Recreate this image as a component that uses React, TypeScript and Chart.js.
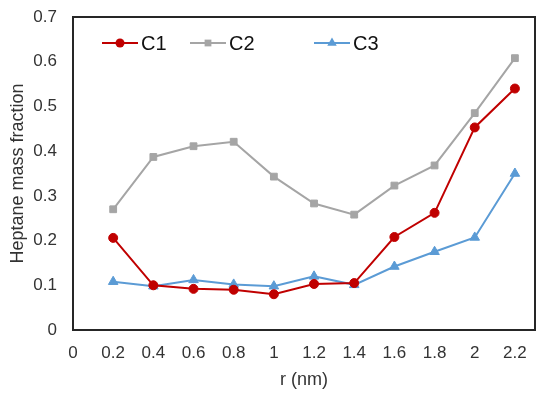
import React, { useEffect, useRef } from "react";
import { Chart, registerables } from "chart.js";

Chart.register(...registerables);

const rValues = [0.2, 0.4, 0.6, 0.8, 1.0, 1.2, 1.4, 1.6, 1.8, 2.0, 2.2];
const c1 = [0.206, 0.1, 0.092, 0.09, 0.08, 0.103, 0.105, 0.208, 0.262, 0.453, 0.54];
const c2 = [0.27, 0.387, 0.411, 0.421, 0.343, 0.283, 0.258, 0.323, 0.368, 0.485, 0.608];
const c3 = [0.108, 0.098, 0.112, 0.102, 0.098, 0.12, 0.101, 0.142, 0.175, 0.207, 0.35];
const xTicks = [0, 0.2, 0.4, 0.6, 0.8, 1, 1.2, 1.4, 1.6, 1.8, 2, 2.2];
const seriesNames = ["C1", "C2", "C3"];
const seriesColors = ["#C00000", "#A5A5A5", "#5B9BD5"];
const seriesMarkers = ["circle", "rect", "triangle"];

const FONT = "'Liberation Sans', Arial, sans-serif";
const toPoints = (ys: number[]) => rValues.map((x, i) => ({ x, y: ys[i] }));

const frameAndLegend = {
  id: "frameAndLegend",
  afterDraw(chart: any) {
    const { ctx, chartArea } = chart;
    ctx.save();
    ctx.strokeStyle = "#262626";
    ctx.lineWidth = 2;
    ctx.strokeRect(chartArea.left, chartArea.top, chartArea.right - chartArea.left, chartArea.bottom - chartArea.top);
    const starts = [29, 117, 241];
    const y = chartArea.top + 26;
    ctx.font = "20px " + FONT;
    ctx.textBaseline = "middle";
    chart.data.datasets.forEach((ds: any) => {
      const i = chart.data.datasets.indexOf(ds);
      const x0 = chartArea.left + starts[i];
      ctx.strokeStyle = ds.borderColor;
      ctx.lineWidth = 2;
      ctx.beginPath();
      ctx.moveTo(x0, y);
      ctx.lineTo(x0 + 36, y);
      ctx.stroke();
      ctx.fillStyle = ds.borderColor;
      const r = ds.pointRadius;
      const cx = x0 + 18;
      ctx.beginPath();
      if (ds.pointStyle === "circle") {
        ctx.arc(cx, y, r, 0, Math.PI * 2);
      } else if (ds.pointStyle === "rect") {
        const s = r * Math.SQRT1_2;
        ctx.rect(cx - s, y - s, 2 * s, 2 * s);
      } else {
        const half = (r * Math.sqrt(3)) / 2;
        ctx.moveTo(cx, y - r);
        ctx.lineTo(cx + half, y + r / 2);
        ctx.lineTo(cx - half, y + r / 2);
        ctx.closePath();
      }
      ctx.fill();
      ctx.fillStyle = "#111";
      ctx.textAlign = "left";
      ctx.fillText(ds.label, x0 + 39, y + 1);
    });
    ctx.restore();
  },
};

export default function App() {
  const canvasRef = useRef<HTMLCanvasElement | null>(null);

  useEffect(() => {
    if (!canvasRef.current) return;
    const data = [c1, c2, c3];
    const chart = new Chart(canvasRef.current, {
      type: "line",
      data: {
        datasets: data.map((ys, i) => ({
          label: seriesNames[i],
          data: toPoints(ys),
          borderColor: seriesColors[i],
          backgroundColor: seriesColors[i],
          pointBackgroundColor: seriesColors[i],
          pointBorderColor: seriesColors[i],
          pointBorderWidth: 1,
          pointStyle: seriesMarkers[i] as any,
          pointRadius: i === 0 ? 4.5 : i === 1 ? 4.8 : 5.5,
          borderWidth: 2,
          tension: 0,
        })),
      },
      options: {
        animation: false,
        responsive: false,
        maintainAspectRatio: false,
        layout: { padding: { left: 0, top: 17, right: 15, bottom: 0 } },
        plugins: {
          legend: { display: false },
          tooltip: { enabled: false },
        },
        scales: {
          x: {
            type: "linear",
            min: 0,
            max: 2.3,
            grid: { display: false, drawTicks: false },
            border: { display: false },
            afterBuildTicks: (scale: any) => {
              scale.ticks = xTicks.map((v) => ({ value: v }));
            },
            afterFit: (scale: any) => {
              scale.height = 64;
              scale.paddingLeft = 0;
              scale.paddingRight = 0;
            },
            ticks: {
              padding: 13.5,
              color: "#333",
              maxRotation: 0,
              autoSkip: false,
              font: { family: FONT, size: 17 },
              callback: (v: any) => String(Math.round(Number(v) * 10) / 10),
            },
            title: {
              display: true,
              text: "r (nm)",
              color: "#333",
              padding: { top: 0, bottom: 3 },
              font: { family: FONT, size: 18 },
            },
          },
          y: {
            min: 0,
            max: 0.7,
            grid: { display: false, drawTicks: false },
            border: { display: false },
            afterFit: (scale: any) => {
              scale.width = 73;
              scale.paddingTop = 0;
              scale.paddingBottom = 0;
            },
            ticks: {
              stepSize: 0.1,
              padding: 16,
              color: "#333",
              font: { family: FONT, size: 17 },
              callback: (v: any) => String(Math.round(Number(v) * 10) / 10),
            },
            title: {
              display: true,
              text: "Heptane mass fraction",
              color: "#333",
              padding: { top: 7, bottom: 0 },
              font: { family: FONT, size: 18 },
            },
          },
        },
      },
      plugins: [frameAndLegend],
    });
    return () => chart.destroy();
  }, []);

  return (
    <div style={{ position: "fixed", left: 0, top: 0, width: 550, height: 394, background: "#fff" }}>
      <canvas ref={canvasRef} width={550} height={394} style={{ width: 550, height: 394 }} />
    </div>
  );
}
